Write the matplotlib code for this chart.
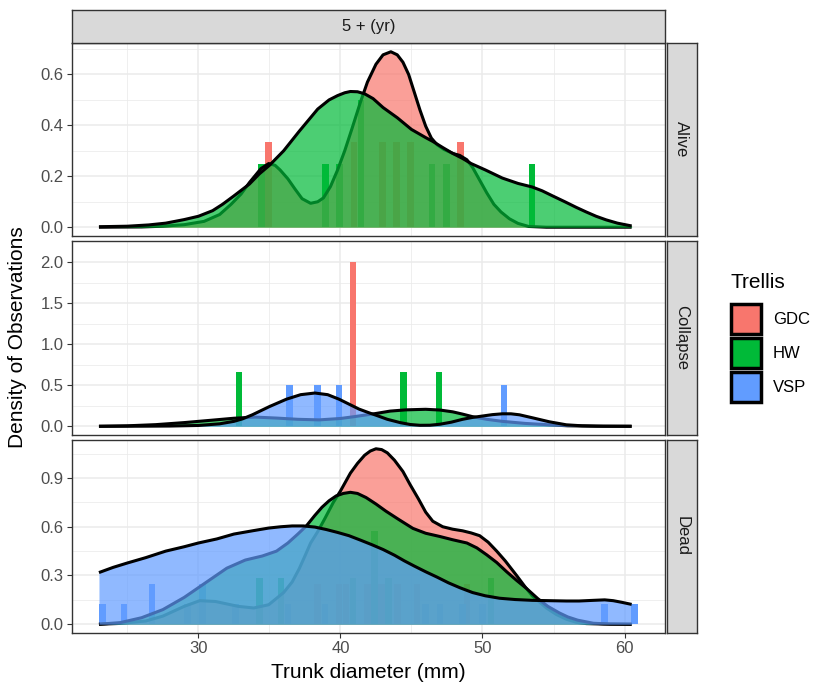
import numpy as np
import matplotlib
matplotlib.use("Agg")
import matplotlib.pyplot as plt
from matplotlib.patches import Rectangle

plt.rcParams['font.family'] = ['Liberation Sans', 'DejaVu Sans']

W, H = 813, 684
BIN_W = 0.5

groups = ["GDC", "HW", "VSP"]
colors = {"GDC": "#F8766D", "HW": "#00BA38", "VSP": "#619CFF"}
panels = ["Alive", "Collapse", "Dead"]

# ---- histogram bins (bin centre, count) per panel / group ----
alive_gdc_bins = [34.95, 40.95, 42.95, 43.95, 44.95, 48.45]
alive_gdc_counts = [1, 1, 1, 1, 1, 1]
alive_hw_bins = [34.45, 38.95, 39.95, 41.45, 46.45, 47.45, 53.5]
alive_hw_counts = [1, 1, 1, 2, 1, 1, 1]

collapse_gdc_bins = [40.9]
collapse_gdc_counts = [1]
collapse_hw_bins = [32.85, 44.45, 46.95]
collapse_hw_counts = [1, 1, 1]
collapse_vsp_bins = [36.4, 38.4, 39.9, 51.5]
collapse_vsp_counts = [1, 1, 1, 1]

dead_gdc_bins = [38.4, 39.9, 40.4, 41.9, 42.9, 44.0, 45.4, 48.9]
dead_gdc_counts = [1, 1, 1, 1, 1, 1, 1, 1]
dead_hw_bins = [34.3, 35.8, 40.9, 42.4, 43.4, 50.6]
dead_hw_counts = [1, 1, 1, 2, 1, 1]
dead_vsp_bins = [23.25, 24.75, 26.75, 29.25, 30.3, 32.6, 36.3, 38.9,
                 46.0, 47.0, 48.6, 50.0, 58.6, 60.7]
dead_vsp_counts = [1, 1, 2, 1, 2, 1, 1, 1, 1, 1, 1, 1, 1, 1]

# ---- kernel density curves (x, density) ----
alive_gdc_x = [23.0, 26.0, 27.5, 29.0, 30.4, 31.5, 32.3, 33.0, 33.6, 34.4, 34.95, 35.4,
               35.75, 36.3, 36.8, 37.3, 37.9, 38.4, 38.8, 39.3, 39.8, 40.3, 40.8, 41.4,
               41.9, 42.5, 43.0, 43.55, 44.0, 44.4, 44.8, 45.2, 45.6, 46.0, 46.4, 46.8,
               47.3, 47.9, 48.4, 48.9, 49.3, 49.75, 50.3, 50.8, 51.3, 51.9, 52.5, 53.25,
               54.5, 60.5]
alive_gdc_y = [0.0, 0.001, 0.004, 0.01, 0.023, 0.05, 0.09, 0.13, 0.176, 0.23, 0.25, 0.243,
               0.225, 0.19, 0.15, 0.112, 0.094, 0.1, 0.115, 0.16, 0.225, 0.3, 0.385, 0.49,
               0.57, 0.64, 0.677, 0.689, 0.677, 0.648, 0.6, 0.53, 0.46, 0.397, 0.35, 0.324,
               0.305, 0.29, 0.282, 0.265, 0.235, 0.19, 0.135, 0.09, 0.06, 0.033, 0.015, 0.003,
               0.0, 0.0]
alive_hw_x = [23.0, 25.0, 26.5, 27.7, 29.0, 30.0, 31.0, 31.7, 32.5, 33.6, 34.3, 35.0, 36.0,
              37.1, 38.4, 39.2, 39.8, 40.3, 40.7, 41.2, 41.7, 42.3, 43.0, 44.0, 45.0, 46.0,
              46.5, 47.2, 47.9, 48.6, 49.2, 50.2, 51.4, 52.5, 53.5, 54.2, 54.9, 55.8, 56.6,
              57.3, 58.0, 58.7, 59.5, 60.5]
alive_hw_y = [0.002, 0.004, 0.009, 0.016, 0.03, 0.043, 0.065, 0.09, 0.123, 0.17, 0.21, 0.243,
              0.3, 0.377, 0.464, 0.5, 0.517, 0.528, 0.533, 0.532, 0.524, 0.505, 0.47, 0.43,
              0.384, 0.352, 0.337, 0.313, 0.29, 0.27, 0.25, 0.225, 0.193, 0.172, 0.158, 0.143,
              0.124, 0.1, 0.078, 0.06, 0.043, 0.029, 0.016, 0.005]

collapse_hw_x = [23.0, 25.0, 27.0, 29.0, 31.0, 32.5, 34.0, 35.5, 37.0, 38.5, 40.0, 41.0,
                 42.5, 43.5, 44.6, 46.0, 47.0, 47.9, 48.6, 49.3, 50.3, 51.4, 53.0, 54.7,
                 56.0, 58.0, 60.5]
collapse_hw_y = [0.0, 0.006, 0.02, 0.045, 0.075, 0.098, 0.112, 0.1, 0.085, 0.078, 0.095, 0.118,
                 0.156, 0.185, 0.2, 0.207, 0.198, 0.176, 0.148, 0.117, 0.085, 0.06, 0.035, 0.018,
                 0.006, 0.001, 0.0]
collapse_vsp_x = [23.0, 26.0, 28.0, 30.0, 31.5, 32.5, 33.1, 33.8, 35.0, 36.2, 37.2, 38.2,
                  39.1, 39.9, 40.6, 41.3, 42.0, 42.5, 43.3, 44.2, 44.9, 45.6, 46.3, 47.0,
                  47.8, 48.6, 49.3, 50.0, 50.7, 51.4, 52.0, 52.6, 53.6, 54.7, 55.9, 57.0,
                  58.5, 60.5]
collapse_vsp_y = [0.0, 0.001, 0.003, 0.01, 0.03, 0.06, 0.09, 0.14, 0.24, 0.33, 0.385, 0.405,
                  0.385, 0.33, 0.27, 0.21, 0.165, 0.135, 0.085, 0.045, 0.022, 0.012, 0.013,
                  0.025, 0.05, 0.085, 0.108, 0.125, 0.142, 0.152, 0.152, 0.14, 0.1, 0.055,
                  0.018, 0.006, 0.001, 0.0]

dead_gdc_x = [23.0, 24.5, 26.3, 27.5, 29.0, 30.1, 31.2, 32.0, 32.8, 33.9, 34.95, 36.0, 36.6,
              37.1, 37.5, 37.9, 38.4, 38.9, 39.5, 40.0, 40.7, 41.2, 41.7, 42.1, 42.5, 42.9,
              43.3, 43.8, 44.4, 44.9, 45.5, 46.0, 46.5, 47.2, 47.9, 48.6, 49.2, 49.8, 50.4,
              51.0, 51.6, 52.4, 53.0, 53.5, 53.9, 54.5, 55.2, 55.9, 56.6, 57.3, 58.5, 60.5]
dead_gdc_y = [0.0, 0.005, 0.02, 0.05, 0.11, 0.145, 0.14, 0.125, 0.11, 0.1, 0.12, 0.195, 0.26,
              0.342, 0.42, 0.5, 0.57, 0.65, 0.75, 0.82, 0.93, 0.99, 1.04, 1.066, 1.08, 1.075,
              1.055, 1.01, 0.94, 0.86, 0.77, 0.69, 0.634, 0.6, 0.585, 0.575, 0.562, 0.545,
              0.505, 0.45, 0.39, 0.3, 0.23, 0.175, 0.145, 0.1, 0.06, 0.031, 0.012, 0.004,
              0.001, 0.0]
dead_hw_x = [23.0, 24.5, 26.0, 27.5, 29.0, 30.5, 32.0, 33.3, 34.5, 35.5, 36.3, 37.0, 37.6,
             38.2, 38.7, 39.2, 39.7, 40.2, 40.7, 41.2, 41.8, 42.5, 43.2, 44.1, 45.1, 46.0,
             47.0, 47.9, 48.9, 49.6, 50.3, 51.0, 51.7, 52.4, 53.1, 53.9, 54.6, 55.4, 56.0,
             56.7, 57.8, 59.0, 60.5]
dead_hw_y = [0.0, 0.01, 0.04, 0.09, 0.165, 0.255, 0.345, 0.395, 0.42, 0.45, 0.5, 0.555, 0.605,
             0.67, 0.72, 0.76, 0.79, 0.805, 0.812, 0.805, 0.78, 0.74, 0.696, 0.645, 0.59,
             0.56, 0.54, 0.52, 0.5, 0.47, 0.427, 0.38, 0.323, 0.27, 0.22, 0.157, 0.11, 0.07,
             0.045, 0.025, 0.006, 0.001, 0.0]
dead_vsp_x = [23.0, 24.0, 25.0, 26.3, 27.7, 29.0, 30.0, 31.3, 32.5, 33.8, 34.95, 35.8, 36.6,
              37.4, 38.2, 39.0, 39.8, 40.6, 41.4, 42.2, 43.0, 43.8, 44.5, 45.2, 46.0, 46.8,
              47.6, 48.4, 49.3, 50.2, 51.2, 52.3, 53.5, 54.7, 55.9, 56.8, 57.8, 58.6, 59.2,
              59.8, 60.5]
dead_vsp_y = [0.318, 0.35, 0.377, 0.41, 0.45, 0.477, 0.5, 0.525, 0.555, 0.575, 0.592, 0.6,
              0.605, 0.605, 0.598, 0.583, 0.565, 0.545, 0.518, 0.49, 0.46, 0.425, 0.39, 0.358,
              0.323, 0.29, 0.255, 0.225, 0.195, 0.175, 0.16, 0.152, 0.147, 0.145, 0.143,
              0.143, 0.147, 0.15, 0.145, 0.135, 0.122]

hists = {
    "Alive": {"GDC": (alive_gdc_bins, alive_gdc_counts), "HW": (alive_hw_bins, alive_hw_counts)},
    "Collapse": {"GDC": (collapse_gdc_bins, collapse_gdc_counts),
                 "HW": (collapse_hw_bins, collapse_hw_counts),
                 "VSP": (collapse_vsp_bins, collapse_vsp_counts)},
    "Dead": {"GDC": (dead_gdc_bins, dead_gdc_counts), "HW": (dead_hw_bins, dead_hw_counts),
             "VSP": (dead_vsp_bins, dead_vsp_counts)},
}
# only one collapsed GDC tree, so no density for it
dens = {
    "Alive": {"GDC": (alive_gdc_x, alive_gdc_y), "HW": (alive_hw_x, alive_hw_y)},
    "Collapse": {"HW": (collapse_hw_x, collapse_hw_y), "VSP": (collapse_vsp_x, collapse_vsp_y)},
    "Dead": {"GDC": (dead_gdc_x, dead_gdc_y), "HW": (dead_hw_x, dead_hw_y),
             "VSP": (dead_vsp_x, dead_vsp_y)},
}
yticks = {"Alive": [0.0, 0.2, 0.4, 0.6], "Collapse": [0.0, 0.5, 1.0, 1.5, 2.0],
          "Dead": [0.0, 0.3, 0.6, 0.9]}
xticks = [30, 40, 50, 60]


def px_axes(fig, x0, y0, x1, y1):
    return fig.add_axes([x0 / W, 1 - y1 / H, (x1 - x0) / W, (y1 - y0) / H])


fig = plt.figure(figsize=(W / 100, H / 100), dpi=100)

PL, PR = 72, 665
rows = [(43, 236), (241.5, 434.5), (440, 633)]
BORDER = "#333333"
GRID = "#EBEBEB"

# shared x range, ggplot-style 5% expansion
all_lo = min(min(b) for p in hists.values() for b, _ in p.values()) - BIN_W / 2
all_hi = max(max(b) for p in hists.values() for b, _ in p.values()) + BIN_W / 2
xpad = 0.05 * (all_hi - all_lo)
xlim = (all_lo - xpad, all_hi + xpad)

for i, (panel, (top, bot)) in enumerate(zip(panels, rows)):
    ax = px_axes(fig, PL, top, PR, bot)
    ymax = 0.0
    for g in groups:
        if g not in hists[panel]:
            continue
        bins, counts = hists[panel][g]
        n = sum(counts)
        heights = np.array(counts) / (n * BIN_W)
        ymax = max(ymax, heights.max())
        ax.bar(bins, heights, width=BIN_W * 0.92, color=colors[g], linewidth=0, zorder=2)
    for g in groups:
        if g not in dens[panel]:
            continue
        x, y = dens[panel][g]
        ymax = max(ymax, max(y))
        ax.fill_between(x, 0, y, color=colors[g], alpha=0.7, linewidth=0, zorder=3)
        ax.plot(x, y, color="black", lw=2.2, solid_capstyle="butt", zorder=3)

    ax.set_xlim(xlim)
    ax.set_ylim(-0.05 * ymax, 1.05 * ymax)
    ax.set_xticks(xticks)
    ax.set_xticks([25, 35, 45, 55], minor=True)
    yt = yticks[panel]
    ax.set_yticks(yt)
    step = yt[1] - yt[0]
    ax.set_yticks([v + step / 2 for v in yt], minor=True)
    ax.set_yticklabels([f"{v:.1f}" for v in yt])
    ax.grid(which="major", color=GRID, lw=1.1, zorder=0)
    ax.grid(which="minor", color=GRID, lw=0.55, zorder=0)
    ax.set_axisbelow(True)
    for s in ax.spines.values():
        s.set_color(BORDER)
        s.set_linewidth(1.0)
    ax.tick_params(which="major", length=3.5, width=0.8, color=BORDER,
                   labelsize=12, labelcolor="#4D4D4D", pad=2.5)
    ax.tick_params(which="minor", length=0)
    if i < 2:
        ax.tick_params(axis="x", labelbottom=False, length=0)

    # facet strip on the right
    sx = px_axes(fig, PR + 1.5, top, 697, bot)
    sx.set_xticks([])
    sx.set_yticks([])
    sx.set_facecolor("#D9D9D9")
    for s in sx.spines.values():
        s.set_color(BORDER)
        s.set_linewidth(1.0)
    sx.text(0.5, 0.5, panel, rotation=-90, ha="center", va="center",
            fontsize=12, color="#1A1A1A", transform=sx.transAxes)

# top strip
st = px_axes(fig, PL, 10, PR, 43)
st.set_xticks([])
st.set_yticks([])
st.set_facecolor("#D9D9D9")
for s in st.spines.values():
    s.set_color(BORDER)
    s.set_linewidth(1.0)
st.text(0.5, 0.5, "5 + (yr)", ha="center", va="center", fontsize=12,
        color="#1A1A1A", transform=st.transAxes)

fig.text((PL + PR) / 2 / W, 1 - 672 / H, "Trunk diameter (mm)", ha="center",
         va="center", fontsize=15)
fig.text(18 / W, 1 - 337 / H, "Density of Observations", rotation=90,
         ha="center", va="center", fontsize=15)

# legend
fig.text(730 / W, 1 - 283 / H, "Trellis", ha="left", va="center", fontsize=15)
lg = px_axes(fig, 0, 0, W, H)
lg.set_xlim(0, W)
lg.set_ylim(H, 0)
lg.axis("off")
key_tops = [302, 336, 370]
for g, kt in zip(groups, key_tops):
    lg.add_patch(Rectangle((731, kt + 1.5), 30, 30, facecolor=colors[g],
                           edgecolor="black", lw=2.5))
    lg.text(773, kt + 17, g, ha="left", va="center", fontsize=12)

fig.savefig("out.png", dpi=100)
